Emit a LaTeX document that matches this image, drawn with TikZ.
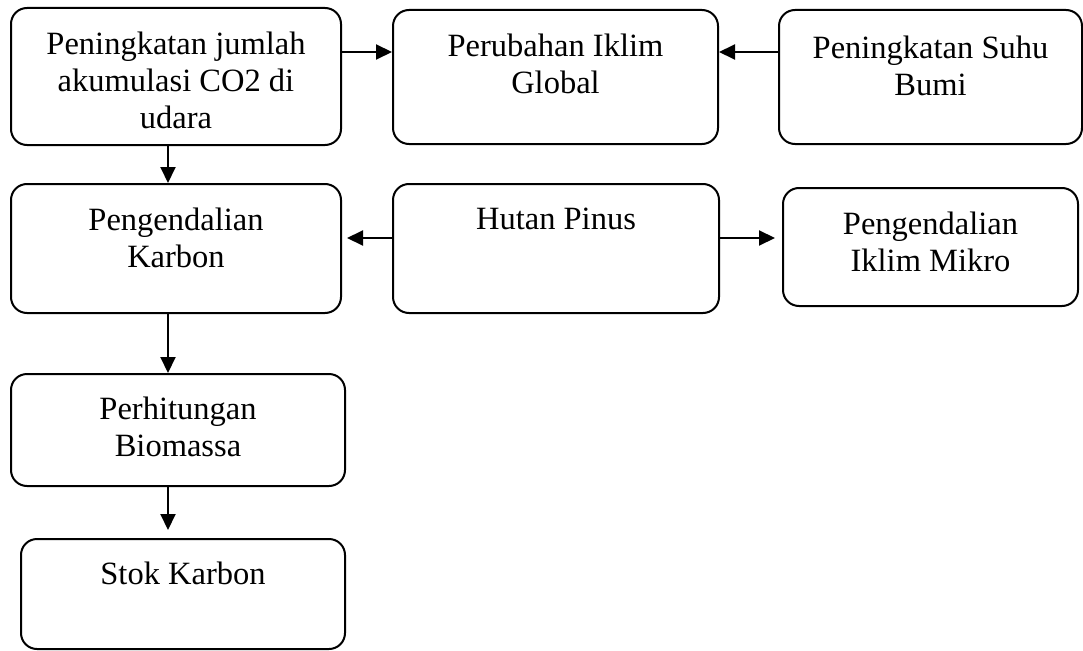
\documentclass[tikz,border=0pt]{standalone}
\usepackage{fontspec}
\setmainfont{Liberation Serif}
\usetikzlibrary{arrows.meta}
\begin{document}
\begin{tikzpicture}[x=1pt,y=-1pt,
  box/.style={draw, line width=2pt, rounded corners=16pt, inner sep=0pt, anchor=north west},
  lbl/.style={anchor=north, inner sep=0pt, align=center, font=\fontsize{32.5}{37}\selectfont},
  arr/.style={-{Triangle[length=16pt,width=15pt]}, line width=2pt}]
\useasboundingbox (0,0) rectangle (1083,650);
% boxes
\node[box, minimum width=330pt, minimum height=137pt] (b1) at (10,7) {};
\node[box, minimum width=325pt, minimum height=134pt] (b2) at (392,9) {};
\node[box, minimum width=303pt, minimum height=134pt] (b3) at (778,9) {};
\node[box, minimum width=330pt, minimum height=129pt] (b4) at (10,183) {};
\node[box, minimum width=326pt, minimum height=129pt] (b5) at (392,183) {};
\node[box, minimum width=295pt, minimum height=118pt] (b6) at (782,187) {};
\node[box, minimum width=334pt, minimum height=112pt] (b7) at (10,373) {};
\node[box, minimum width=324pt, minimum height=110pt] (b8) at (20,538) {};
% texts
\node[lbl] (t1) at ([yshift=-25pt]b1.north) {Peningkatan jumlah\\akumulasi CO2 di\\udara};
\node[lbl] (t2) at ([yshift=-25pt]b2.north) {Perubahan Iklim\\Global};
\node[lbl] (t3) at ([yshift=-27pt]b3.north) {Peningkatan Suhu\\Bumi};
\node[lbl] (t4) at ([yshift=-25pt]b4.north) {Pengendalian\\Karbon};
\node[lbl] (t5) at ([yshift=-25pt]b5.north) {Hutan Pinus};
\node[lbl] (t6) at ([yshift=-25pt]b6.north) {Pengendalian\\Iklim Mikro};
\node[lbl] (t7) at ([yshift=-24pt]b7.north) {Perhitungan\\Biomassa};
\node[lbl] (t8) at ([yshift=-24pt]b8.north) {Stok Karbon};
% helper coordinates
\coordinate (r1) at (0,52);
\coordinate (r2) at (0,238);
\coordinate (cx) at (168,0);
% connectors
\draw[arr] (b1.east |- r1) -- (b2.west |- r1);
\draw[arr] (b3.west |- r1) -- (b2.east |- r1);
\draw[arr] (b1.south -| cx) -- (b4.north -| cx);
\draw[arr] (b4.south -| cx) -- (b7.north -| cx);
\draw[arr, shorten >=8pt] (b7.south -| cx) -- (b8.north -| cx);
\draw[arr, shorten >=5pt] (b5.west |- r2) -- (b4.east |- r2);
\draw[arr, shorten >=7pt] (b5.east |- r2) -- (b6.west |- r2);
\end{tikzpicture}
\end{document}
